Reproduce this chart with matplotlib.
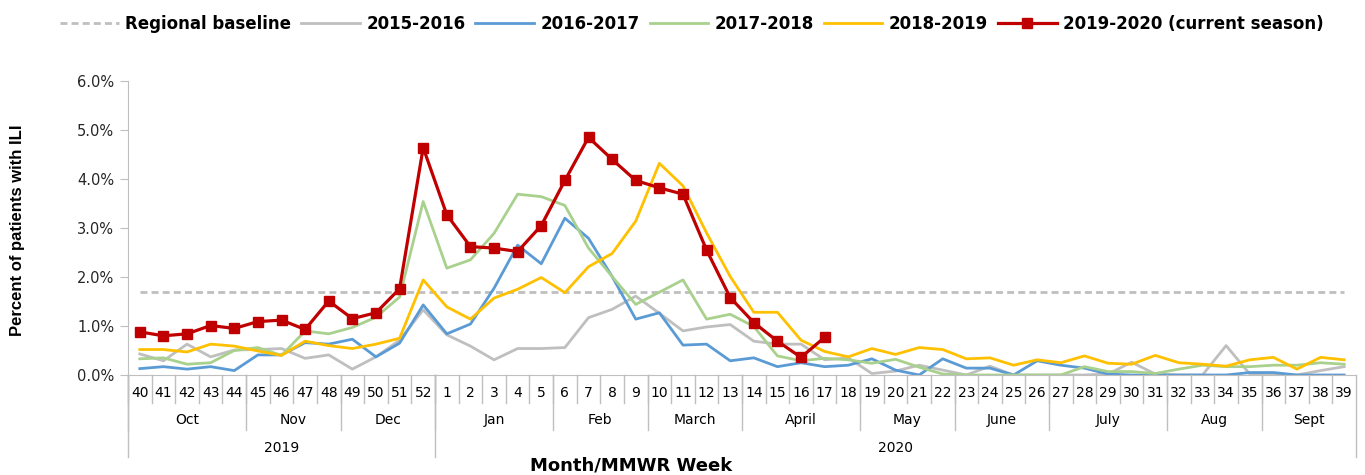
import numpy as np
import matplotlib
matplotlib.use('Agg')
import matplotlib.pyplot as plt
import matplotlib.transforms as mtransforms

# MMWR weeks, Oct 2019 -> Sept 2020
weeks = list(range(40, 53)) + list(range(1, 40))
months = ['Oct', 'Nov', 'Dec', 'Jan', 'Feb', 'March', 'April', 'May', 'June', 'July', 'Aug', 'Sept']
month_weeks = [5, 4, 4, 5, 4, 4, 5, 4, 4, 5, 4, 4]
years = ['2019', '2020']
year_weeks = [13, 39]

baseline = 1.7

s2015 = [0.43, 0.29, 0.63, 0.37, 0.51, 0.52, 0.54, 0.34, 0.41, 0.12, 0.37, 0.71, 1.33, 0.82,
         0.59, 0.31, 0.54, 0.54, 0.56, 1.17, 1.34, 1.61, 1.26, 0.90, 0.98, 1.03, 0.69,
         0.63, 0.63, 0.31, 0.35, 0.03, 0.08, 0.20, 0.10, 0.0, 0.18, 0.0, 0.0,
         0.0, 0.0, 0.02, 0.26, 0.02, 0.0, 0.0, 0.60, 0.02, 0.0, 0.0, 0.09, 0.17]
s2016 = [0.13, 0.17, 0.12, 0.17, 0.09, 0.41, 0.41, 0.66, 0.63, 0.73, 0.37, 0.65, 1.43, 0.84,
         1.04, 1.77, 2.65, 2.27, 3.20, 2.79, 2.01, 1.14, 1.27, 0.61, 0.63, 0.29, 0.35,
         0.17, 0.25, 0.17, 0.20, 0.33, 0.10, 0.0, 0.33, 0.14, 0.14, 0.0, 0.29,
         0.20, 0.14, 0.02, 0.0, 0.0, 0.0, 0.0, 0.0, 0.05, 0.05, 0.0, 0.0, 0.0]
s2017 = [0.33, 0.35, 0.22, 0.25, 0.50, 0.56, 0.40, 0.90, 0.84, 0.97, 1.18, 1.59, 3.54, 2.18,
         2.35, 2.89, 3.69, 3.64, 3.46, 2.59, 2.01, 1.44, 1.69, 1.94, 1.14, 1.24, 0.99,
         0.39, 0.29, 0.34, 0.31, 0.24, 0.32, 0.16, 0.02, 0.0, 0.0, 0.0, 0.0,
         0.0, 0.17, 0.07, 0.07, 0.03, 0.12, 0.20, 0.17, 0.17, 0.20, 0.20, 0.25, 0.22]
s2018 = [0.52, 0.52, 0.47, 0.63, 0.59, 0.49, 0.40, 0.69, 0.60, 0.54, 0.63, 0.75, 1.94, 1.39,
         1.14, 1.57, 1.75, 1.99, 1.68, 2.21, 2.48, 3.14, 4.32, 3.86, 2.90, 2.01, 1.28,
         1.28, 0.71, 0.48, 0.37, 0.54, 0.42, 0.56, 0.52, 0.33, 0.35, 0.20, 0.31,
         0.25, 0.39, 0.24, 0.22, 0.40, 0.25, 0.22, 0.18, 0.31, 0.36, 0.12, 0.36, 0.31]
s2019 = [0.88, 0.80, 0.84, 1.01, 0.95, 1.09, 1.12, 0.93, 1.51, 1.15, 1.27, 1.76, 4.64, 3.27,
         2.62, 2.59, 2.52, 3.05, 3.97, 4.85, 4.40, 3.97, 3.82, 3.69, 2.55, 1.58, 1.07,
         0.69, 0.36, 0.77]

narrow = ['Liberation Sans Narrow', 'DejaVu Sans Condensed', 'Liberation Sans']
grid_col = '#BFBFBF'

fig = plt.figure(figsize=(13.65, 4.75), dpi=100)
ax = fig.add_axes([128 / 1365, 1 - 375 / 475, 1228 / 1365, 294 / 475])

x = np.arange(len(weeks))
ax.plot(x, np.full(len(weeks), baseline), color=grid_col, lw=2, dashes=(2.5, 1.5), label='Regional baseline')
ax.plot(x, s2015, color='#BFBFBF', lw=2, label='2015-2016')
ax.plot(x, s2016, color='#5B9BD5', lw=2, label='2016-2017')
ax.plot(x, s2017, color='#A9D18E', lw=2, label='2017-2018')
ax.plot(x, s2018, color='#FFC000', lw=2, label='2018-2019')
ax.plot(x[:len(s2019)], s2019, color='#C00000', lw=2.3, marker='s', markersize=6.5,
        label='2019-2020 (current season)')

ax.set_xlim(-0.5, len(weeks) - 0.5)
ax.set_ylim(0, 6)
ax.set_yticks(np.arange(0, 7))
ax.set_yticklabels([f'{v:.1f}%' for v in range(7)], fontsize=10.5, color='#262626')
ax.tick_params(axis='y', length=6, color=grid_col, pad=4)
ax.set_xticks([])

for s in ['top', 'right']:
    ax.spines[s].set_visible(False)
ax.spines['left'].set_color(grid_col)
ax.spines['bottom'].set_color(grid_col)

# multi-level category axis
trans = mtransforms.blended_transform_factory(ax.transData, ax.transAxes)
for i, w in enumerate(weeks):
    ax.text(i, -0.061, str(w), transform=trans, ha='center', va='center', fontsize=10)
for b in range(len(weeks)):
    ax.plot([b - 0.5, b - 0.5], [0, -0.095], transform=trans, color=grid_col, lw=1, clip_on=False)

start = 0
for m, n in zip(months, month_weeks):
    ax.text(start + n / 2 - 0.5, -0.153, m, transform=trans, ha='center', va='center', fontsize=10)
    ax.plot([start - 0.5, start - 0.5], [0, -0.187], transform=trans, color=grid_col, lw=1, clip_on=False)
    start += n

start = 0
for yr, n in zip(years, year_weeks):
    ax.text(start + n / 2 - 0.5, -0.248, yr, transform=trans, ha='center', va='center', fontsize=10)
    ax.plot([start - 0.5, start - 0.5], [0, -0.279], transform=trans, color=grid_col, lw=1, clip_on=False)
    start += n
ax.plot([start - 0.5, start - 0.5], [0, -0.279], transform=trans, color=grid_col, lw=1, clip_on=False)

fig.text(631 / 1365, 1 - 465 / 475, 'Month/MMWR Week', ha='center', va='center', fontsize=13, fontweight='bold')
fig.text(18 / 1365, 1 - 230 / 475, 'Percent of patients with ILI', rotation=90, ha='center', va='center',
         fontsize=12, fontweight='bold', family=narrow)

fig.legend(loc='upper center', bbox_to_anchor=(0.507, 1.0), ncol=6, frameon=False,
           prop={'weight': 'bold', 'size': 12}, handlelength=3.5, handletextpad=0.4, columnspacing=0.6)

fig.savefig('out.png', dpi=100)
